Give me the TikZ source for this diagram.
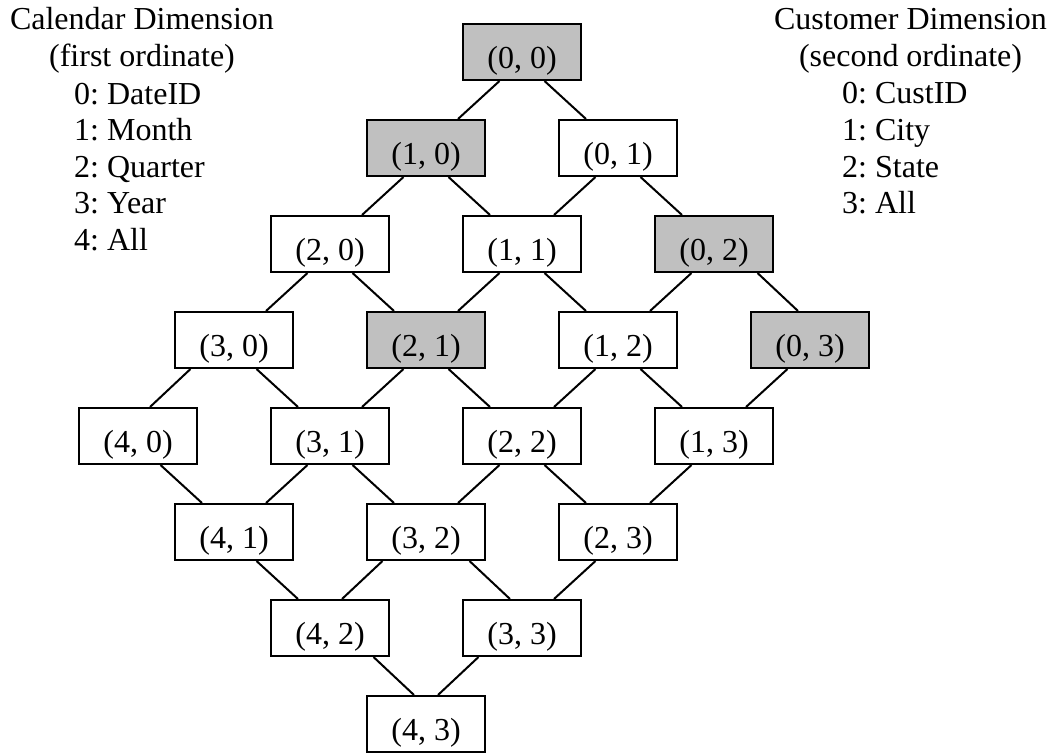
\documentclass[tikz,border=0pt]{standalone}
\usepackage{fontspec}
\setmainfont{Liberation Serif}
\frenchspacing
\definecolor{shade}{HTML}{C0C0C0}
\tikzset{
  cell/.style={draw=black, line width=2pt, minimum width=118pt, minimum height=56pt,
    inner sep=0pt, text height=32.6pt, text depth=0pt},
  link/.style={draw=black, line width=2pt},
  legend/.style={inner sep=0pt}
}
\begin{document}
\begin{tikzpicture}[x=1pt, y=-1pt, font=\fontsize{32}{36.6}\selectfont]
  \useasboundingbox (0,0) rectangle (1057,754);

  % lattice of aggregation levels (calendar level, customer level)
  \foreach \a/\b/\f in {0/0/shade,1/0/shade,0/1/white,2/0/white,1/1/white,0/2/shade,
      3/0/white,2/1/shade,1/2/white,0/3/shade,4/0/white,3/1/white,2/2/white,1/3/white,
      4/1/white,3/2/white,2/3/white,4/2/white,3/3/white,4/3/white}{
    \node[cell, fill=\f] (c\a\b) at ({522+96*(\b-\a)}, {52+96*(\a+\b)}) {(\a, \b)};
  }

  % calendar roll-up links: (a,b) -> (a+1,b), going down-left
  \foreach \a in {0,...,3}{
    \foreach \b in {0,...,3}{
      \pgfmathtruncatemacro{\na}{\a+1}
      \pgfmathtruncatemacro{\key}{10*\a+\b}
      \def\s{22.5}\def\t{32}
      \ifnum\key=30 \def\s{43.5}\def\t{12}\fi
      \ifnum\key=32 \def\s{43.5}\def\t{12}\fi
      \ifnum\key=33 \def\s{43.5}\def\t{12}\fi
      \draw[link] ([xshift=-\s pt]c\a\b.south) -- ([xshift=\t pt]c\na\b.north);
    }
  }

  % customer roll-up links: (a,b) -> (a,b+1), going down-right
  \foreach \a in {0,...,4}{
    \foreach \b in {0,...,2}{
      \pgfmathtruncatemacro{\nb}{\b+1}
      \pgfmathtruncatemacro{\key}{10*\a+\b}
      \def\s{22.5}\def\t{32}
      \ifnum\key=2 \def\s{43.5}\def\t{12}\fi
      \ifnum\key=32 \def\s{43.5}\def\t{12}\fi
      \ifnum\key=42 \def\s{43.5}\def\t{12}\fi
      \draw[link] ([xshift=\s pt]c\a\b.south) -- ([xshift=-\t pt]c\a\nb.north);
    }
  }

  % dimension legends (base anchor sits on the last line)
  \node[legend, anchor=base, align=center] (caltitle) at (142,66.6)
    {Calendar Dimension\\(first ordinate)};
  \node[legend, anchor=base west, align=left] (callevels) at (74,250.4)
    {0: DateID\\1: Month\\2: Quarter\\3: Year\\4: All};
  \node[legend, anchor=base, align=center] (custtitle) at (910.5,66.6)
    {Customer Dimension\\(second ordinate)};
  \node[legend, anchor=base west, align=left] (custlevels) at (842,213.8)
    {0: CustID\\1: City\\2: State\\3: All};
\end{tikzpicture}
\end{document}
